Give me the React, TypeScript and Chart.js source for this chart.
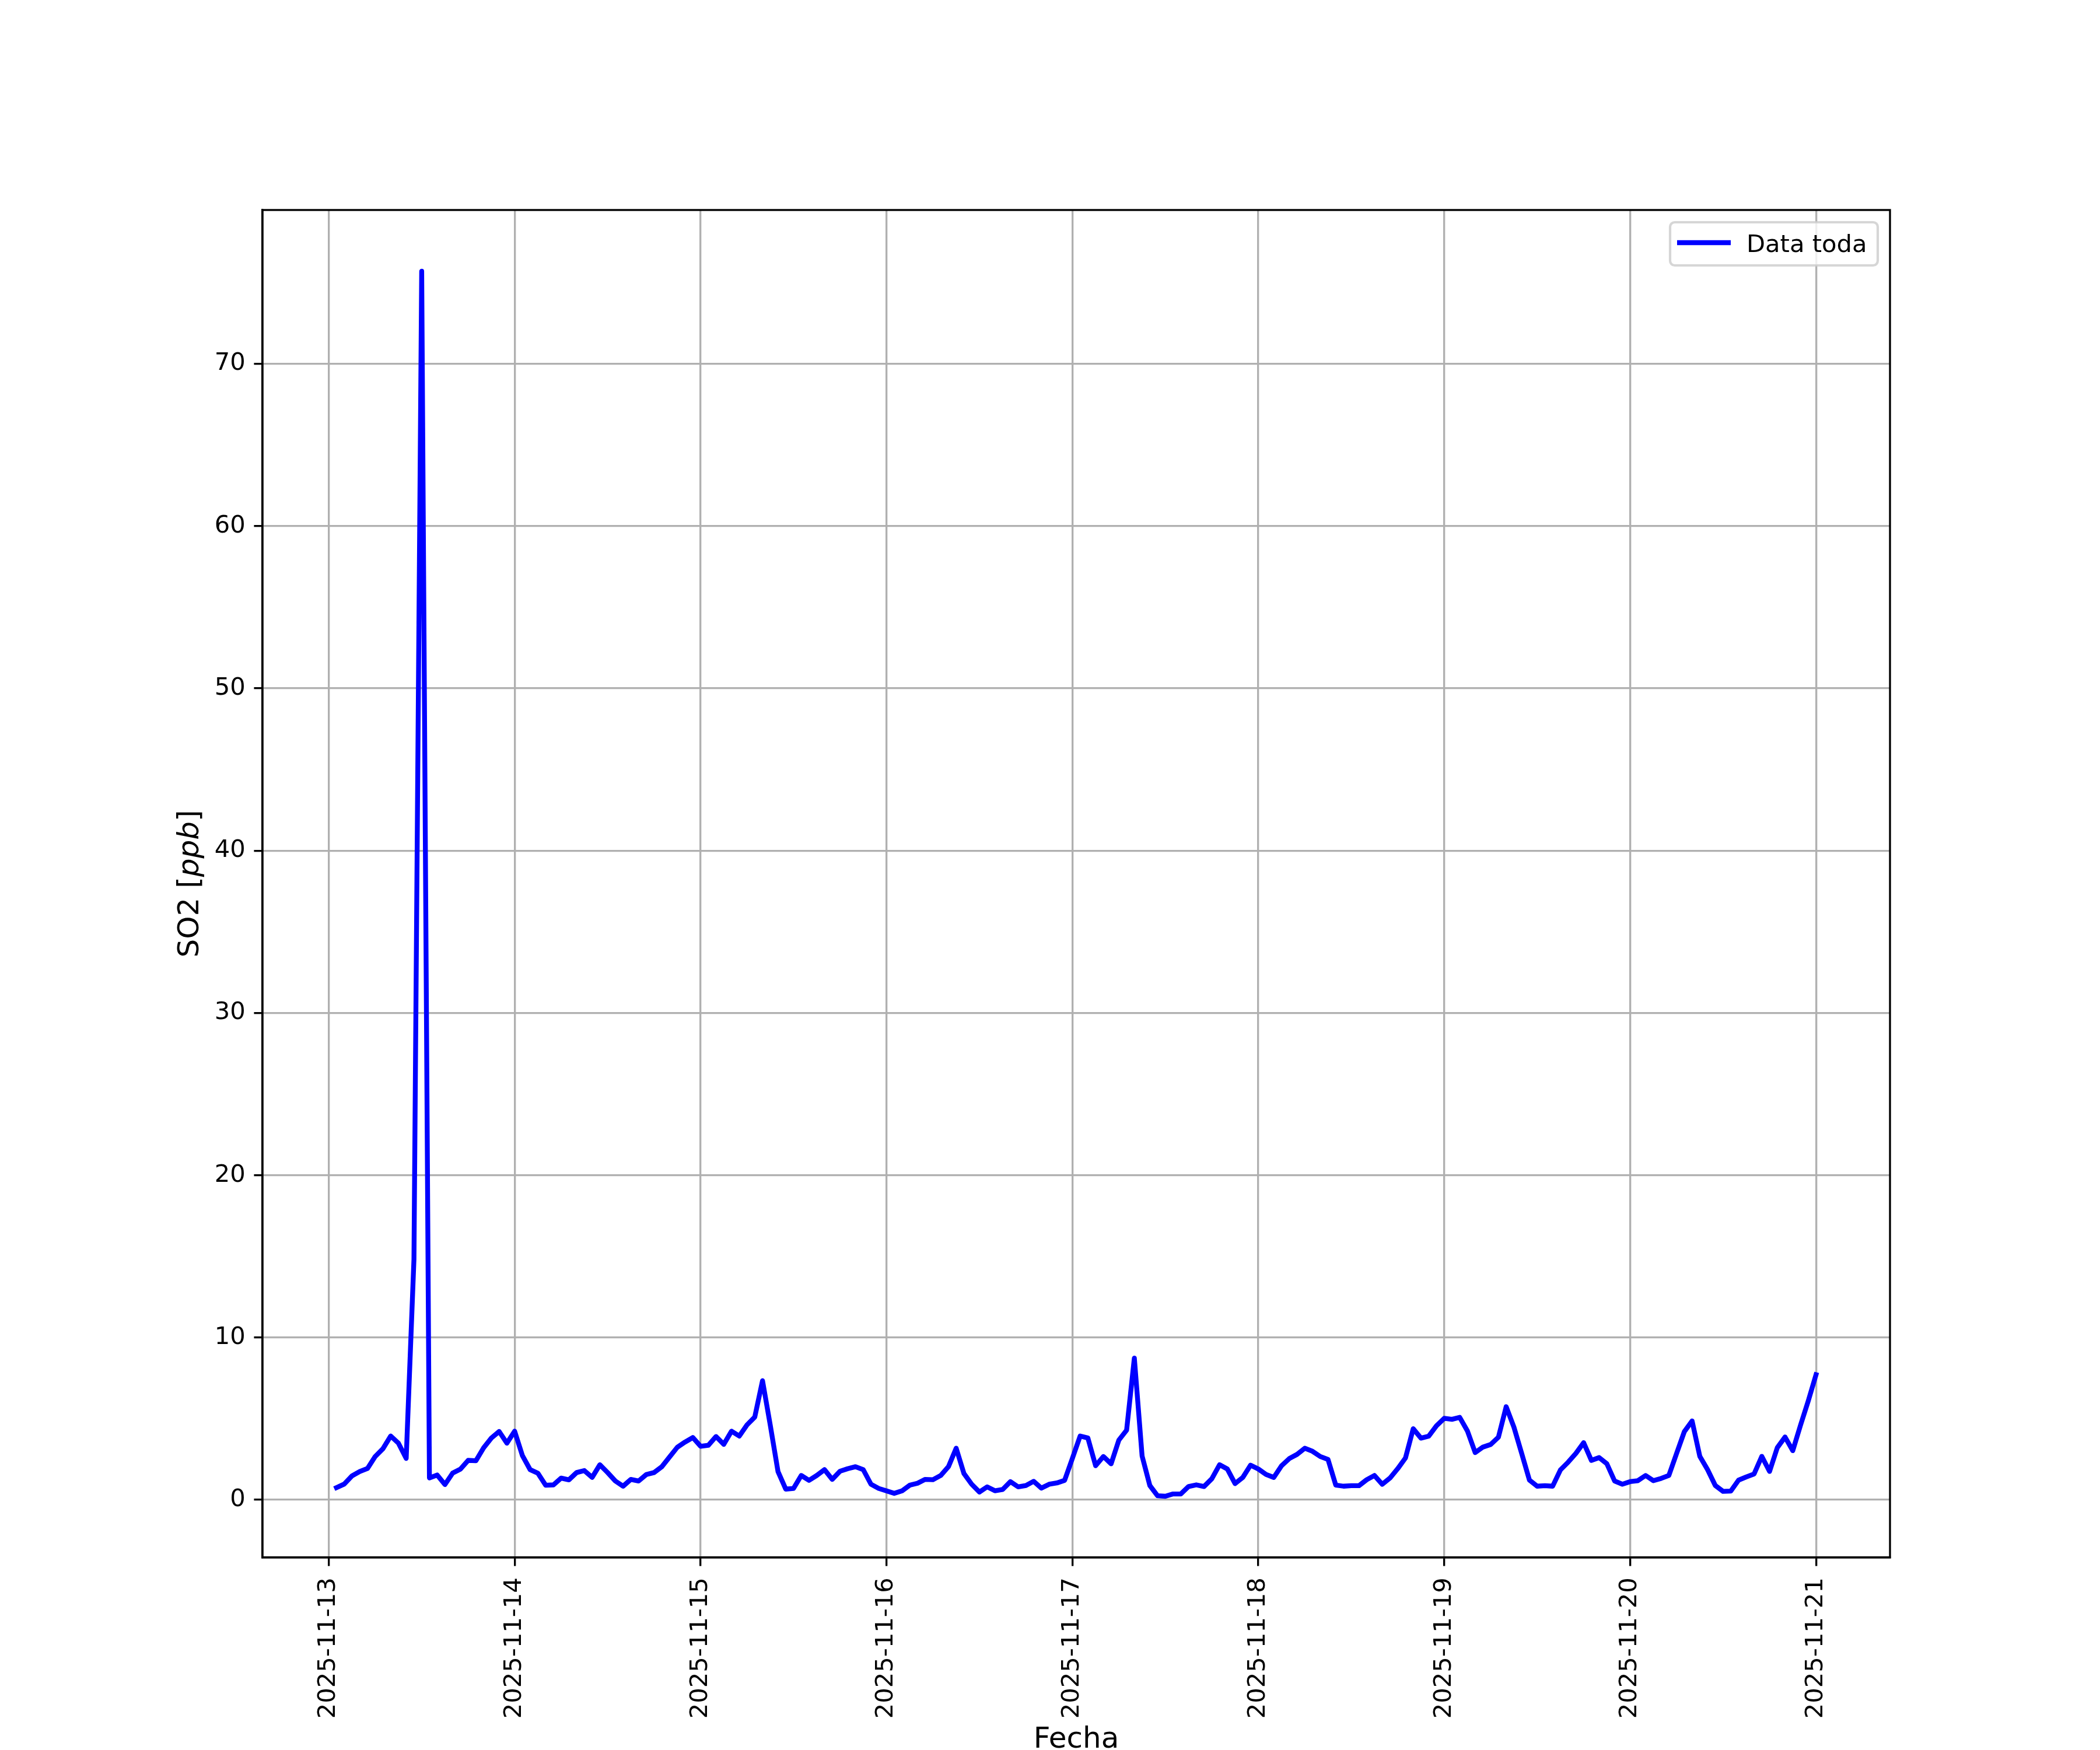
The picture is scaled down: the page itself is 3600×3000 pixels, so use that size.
import React, { useEffect, useRef } from "react";
import { Chart, registerables } from "chart.js";

Chart.register(...registerables);

// ---- Data ----
const DATE_LABELS = [
  "2025-11-13",
  "2025-11-14",
  "2025-11-15",
  "2025-11-16",
  "2025-11-17",
  "2025-11-18",
  "2025-11-19",
  "2025-11-20",
  "2025-11-21",
];
const SERIES_LABEL = "Data toda";
const X_TITLE = "Fecha";
const Y_TITLE_PARTS: [string, boolean][] = [
  ["SO2 [", false],
  ["ppb", true],
  ["]", false],
];
const Y_TICKS = [0, 10, 20, 30, 40, 50, 60, 70];
const HOURS_PER_DAY = 24;

// Hourly SO2 values, hours 01:00 .. 24:00 of each day
const DAY_13 = [0.75, 0.97, 1.47, 1.74, 1.93, 2.67, 3.15, 3.93, 3.49, 2.55, 14.8, 75.7, 1.35, 1.53, 0.94, 1.65, 1.89, 2.43, 2.41, 3.21, 3.81, 4.21, 3.49, 4.23];
const DAY_14 = [2.73, 1.86, 1.64, 0.9, 0.92, 1.34, 1.23, 1.68, 1.8, 1.38, 2.16, 1.68, 1.16, 0.84, 1.26, 1.16, 1.56, 1.68, 2.04, 2.64, 3.24, 3.56, 3.84, 3.3];
const DAY_15 = [3.36, 3.9, 3.42, 4.23, 3.93, 4.62, 5.1, 7.34, 4.6, 1.74, 0.66, 0.7, 1.5, 1.2, 1.5, 1.86, 1.26, 1.76, 1.92, 2.04, 1.86, 0.96, 0.7, 0.55];
const DAY_16 = [0.4, 0.55, 0.9, 1.02, 1.26, 1.24, 1.5, 2.04, 3.18, 1.62, 0.96, 0.48, 0.8, 0.56, 0.64, 1.12, 0.8, 0.88, 1.14, 0.72, 0.96, 1.04, 1.2, 2.55];
const DAY_17 = [3.93, 3.81, 2.1, 2.67, 2.22, 3.68, 4.29, 8.73, 2.7, 0.88, 0.25, 0.22, 0.36, 0.36, 0.82, 0.92, 0.82, 1.3, 2.16, 1.9, 1.0, 1.38, 2.13, 1.9];
const DAY_18 = [1.56, 1.38, 2.1, 2.54, 2.8, 3.18, 2.99, 2.67, 2.49, 0.91, 0.84, 0.87, 0.87, 1.24, 1.5, 0.96, 1.34, 1.92, 2.58, 4.38, 3.8, 3.92, 4.56, 5.02];
const DAY_19 = [4.96, 5.08, 4.24, 2.91, 3.25, 3.41, 3.86, 5.74, 4.48, 2.86, 1.22, 0.84, 0.87, 0.84, 1.84, 2.32, 2.86, 3.52, 2.43, 2.6, 2.22, 1.16, 0.96, 1.12];
const DAY_20 = [1.18, 1.5, 1.18, 1.32, 1.5, 2.86, 4.2, 4.86, 2.68, 1.86, 0.88, 0.52, 0.54, 1.21, 1.41, 1.59, 2.68, 1.75, 3.21, 3.87, 3.03, 4.6, 6.1, 7.71];

const DAYS = [DAY_13, DAY_14, DAY_15, DAY_16, DAY_17, DAY_18, DAY_19, DAY_20];

const FONT = "'DejaVu Sans', 'Liberation Sans', sans-serif";
const PT = 300 / 72;

export default function App() {
  const ref = useRef<HTMLCanvasElement | null>(null);

  useEffect(() => {
    const canvas = ref.current;
    if (!canvas) return;

    const points = DAYS.flatMap((arr, d) =>
      arr.map((v, i) => ({ x: d + (i + 1) / HOURS_PER_DAY, y: v }))
    );
    const xs = points.map((p) => p.x);
    const ys = points.map((p) => p.y);
    const xMin0 = Math.min(...xs);
    const xMax0 = Math.max(...xs);
    const yMin0 = Math.min(...ys);
    const yMax0 = Math.max(...ys);
    const xm = 0.05 * (xMax0 - xMin0);
    const ym = 0.05 * (yMax0 - yMin0);

    const framePlugin = {
      id: "mplFrame",
      afterDatasetsDraw(chart: any) {
        const { ctx, chartArea } = chart;
        ctx.save();
        ctx.strokeStyle = "#000000";
        ctx.lineWidth = 0.8 * PT;
        ctx.strokeRect(
          chartArea.left,
          chartArea.top,
          chartArea.right - chartArea.left,
          chartArea.bottom - chartArea.top
        );
        ctx.restore();
      },
      afterDraw(chart: any) {
        const { ctx, chartArea } = chart;
        // y-axis title with italic part
        ctx.save();
        const fs = 12 * PT;
        const cy = (chartArea.top + chartArea.bottom) / 2;
        ctx.translate(chartArea.left - 110, cy);
        ctx.rotate(-Math.PI / 2);
        ctx.fillStyle = "#000000";
        ctx.textBaseline = "alphabetic";
        ctx.textAlign = "left";
        const widths = Y_TITLE_PARTS.map(([t, it]) => {
          ctx.font = `${it ? "italic " : ""}${fs}px ${FONT}`;
          return ctx.measureText(t).width;
        });
        const total = widths.reduce((a, b) => a + b, 0);
        let x = -total / 2;
        Y_TITLE_PARTS.forEach(([t, it], i) => {
          ctx.font = `${it ? "italic " : ""}${fs}px ${FONT}`;
          ctx.fillText(t, x, 0);
          x += widths[i];
        });
        ctx.restore();

        // legend (upper right, inside axes)
        const ds = chart.data.datasets[0];
        const lfs = 10 * PT;
        const W = 356;
        const H = 74;
        const L = chartArea.right - 21 - W;
        const T = chartArea.top + 21;
        ctx.save();
        ctx.beginPath();
        const r = 8;
        ctx.moveTo(L + r, T);
        ctx.lineTo(L + W - r, T);
        ctx.arcTo(L + W, T, L + W, T + r, r);
        ctx.lineTo(L + W, T + H - r);
        ctx.arcTo(L + W, T + H, L + W - r, T + H, r);
        ctx.lineTo(L + r, T + H);
        ctx.arcTo(L, T + H, L, T + H - r, r);
        ctx.lineTo(L, T + r);
        ctx.arcTo(L, T, L + r, T, r);
        ctx.closePath();
        ctx.fillStyle = "rgba(255,255,255,0.8)";
        ctx.fill();
        ctx.strokeStyle = "rgba(204,204,204,0.8)";
        ctx.lineWidth = 1.0 * PT;
        ctx.stroke();
        ctx.beginPath();
        ctx.moveTo(L + 12, T + 35);
        ctx.lineTo(L + 104, T + 35);
        ctx.strokeStyle = ds.borderColor;
        ctx.lineWidth = ds.borderWidth;
        ctx.lineCap = "butt";
        ctx.stroke();
        ctx.fillStyle = "#000000";
        ctx.font = `${lfs}px ${FONT}`;
        ctx.textBaseline = "alphabetic";
        ctx.textAlign = "left";
        ctx.fillText(ds.label, L + 131, T + 51);
        ctx.restore();
      },
    };

    const tickFont = { family: FONT, size: 10 * PT };

    const chart = new Chart(canvas, {
      type: "line",
      data: {
        datasets: [
          {
            label: SERIES_LABEL,
            data: points,
            borderColor: "#0000ff",
            backgroundColor: "#0000ff",
            borderWidth: 2 * PT,
            pointRadius: 0,
            pointHoverRadius: 0,
            fill: false,
            tension: 0,
            borderJoinStyle: "round",
            borderCapStyle: "square",
          },
        ],
      },
      options: {
        animation: false,
        responsive: false,
        maintainAspectRatio: false,
        layout: { padding: { top: 360, right: 360, bottom: 0, left: 0 } },
        plugins: {
          legend: { display: false },
          tooltip: { enabled: false },
        },
        scales: {
          x: {
            type: "linear",
            bounds: "data",
            min: xMin0 - xm,
            max: xMax0 + xm,
            afterBuildTicks: (s: any) => {
              s.ticks = DATE_LABELS.map((_, i) => ({ value: i }));
            },
            afterFit: (s: any) => {
              s.height = 330;
            },
            ticks: {
              autoSkip: false,
              minRotation: 90,
              maxRotation: 90,
              padding: 3.5 * PT + 5,
              color: "#000000",
              font: tickFont,
              callback: (_v: any, i: number) => DATE_LABELS[i],
            },
            grid: {
              color: "#b0b0b0",
              lineWidth: 0.8 * PT,
              tickLength: 3.5 * PT,
              tickColor: "#000000",
              tickWidth: 0.8 * PT,
            },
            border: { display: true, color: "#000000", width: 0.8 * PT },
            title: {
              display: true,
              text: X_TITLE,
              color: "#000000",
              font: { family: FONT, size: 12 * PT, lineHeight: 0.66 },
              padding: 0,
            },
          },
          y: {
            type: "linear",
            bounds: "data",
            min: yMin0 - ym,
            max: yMax0 + ym,
            afterBuildTicks: (s: any) => {
              s.ticks = Y_TICKS.map((v) => ({ value: v }));
            },
            afterFit: (s: any) => {
              s.width = 450;
            },
            ticks: {
              padding: 3.5 * PT,
              color: "#000000",
              font: tickFont,
              callback: (v: any) => String(v),
            },
            grid: {
              color: "#b0b0b0",
              lineWidth: 0.8 * PT,
              tickLength: 3.5 * PT,
              tickColor: "#000000",
              tickWidth: 0.8 * PT,
            },
            border: { display: true, color: "#000000", width: 0.8 * PT },
            title: { display: false },
          },
        },
      },
      plugins: [framePlugin],
    } as any);

    return () => {
      chart.destroy();
    };
  }, []);

  return (
    <div
      style={{
        position: "absolute",
        left: 0,
        top: 0,
        width: 3600,
        height: 3000,
        background: "#ffffff",
      }}
    >
      <canvas ref={ref} width={3600} height={3000} style={{ display: "block" }} />
    </div>
  );
}
